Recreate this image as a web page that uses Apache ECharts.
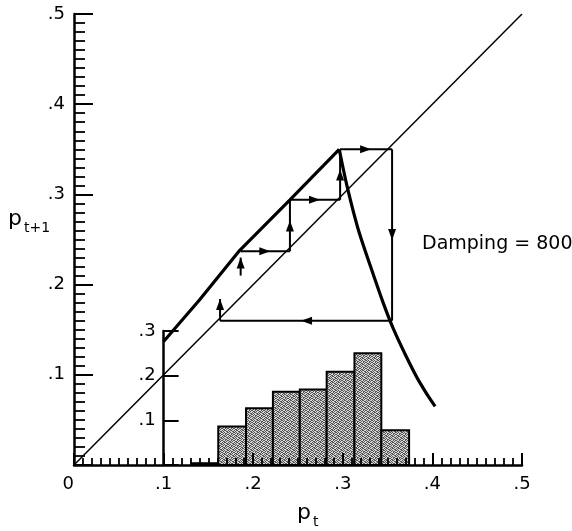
<!DOCTYPE html>
<html>
<head>
<meta charset="utf-8">
<script src="https://cdn.jsdelivr.net/npm/echarts@6/dist/echarts.min.js"></script>
<style>
  html, body { margin: 0; padding: 0; background: #fff; }
  #chart { width: 572px; height: 531px; }
</style>
</head>
<body>
<div id="chart"></div>
<script>
// Map p(t) -> p(t+1): rising branch up to the peak, then the falling branch
const risingP    = [0.100, 0.140, 0.185, 0.241, 0.296];
const risingNext = [0.137, 0.183, 0.238, 0.294, 0.350];
const fallingP    = [0.296, 0.305, 0.317, 0.331, 0.345, 0.356, 0.370, 0.385, 0.403];
const fallingNext = [0.350, 0.308, 0.262, 0.220, 0.180, 0.152, 0.122, 0.093, 0.065];

// identity line p(t+1) = p(t)
const diagonalP = [0, 0.5];

// cobweb steps: [from p, from p', to p, to p'], arrow at mid-segment
const cobwebSteps = [
  [0.186, 0.237, 0.241, 0.237],
  [0.241, 0.237, 0.241, 0.294],
  [0.241, 0.294, 0.297, 0.294],
  [0.297, 0.294, 0.297, 0.350],
  [0.297, 0.350, 0.355, 0.350],
  [0.355, 0.350, 0.355, 0.160],
  [0.355, 0.160, 0.163, 0.160]
];
// short arrows with the head at the end point
const stubArrows = [
  [0.163, 0.160, 0.163, 0.184],
  [0.186, 0.210, 0.186, 0.230]
];

// histogram of visited p(t): bin edges and relative frequencies
const binEdges = [0.131, 0.161, 0.192, 0.222, 0.252, 0.282, 0.313, 0.343, 0.374];
const binFreq  = [0.004, 0.086, 0.127, 0.164, 0.169, 0.209, 0.250, 0.078];

// tick labels
const xTickLabels = ['0', '.1', '.2', '.3', '.4', '.5'];
const yTickLabels = ['', '.1', '.2', '.3', '.4', '.5'];
const insetTickLabels = ['', '.1', '.2', '.3'];

const FONT = 'DejaVu Sans';

// stippled grey fill for the histogram bars
function stipple() {
  const rows = [
    '101001', '010110', '100101', '011010', '101100', '010011'
  ];
  const c = document.createElement('canvas');
  c.width = 6; c.height = 6;
  const g = c.getContext('2d');
  g.fillStyle = '#d6d6d6';
  g.fillRect(0, 0, 6, 6);
  g.fillStyle = '#555';
  rows.forEach((r, y) => { for (let x = 0; x < 6; x++) if (r[x] === '1') g.fillRect(x, y, 1, 1); });
  return c;
}
const barFill = { image: stipple(), repeat: 'repeat' };

function arrowHead(tip, d, len, half) {
  const bx = tip[0] - d[0] * len, by = tip[1] - d[1] * len;
  return [[tip[0], tip[1]], [bx - d[1] * half, by + d[0] * half], [bx + d[1] * half, by - d[0] * half]];
}

function arrowRenderer(headAtEnd) {
  return function (params, api) {
    const a = api.coord([api.value(0), api.value(1)]);
    const b = api.coord([api.value(2), api.value(3)]);
    const dx = b[0] - a[0], dy = b[1] - a[1];
    const L = Math.hypot(dx, dy) || 1;
    const d = [dx / L, dy / L];
    const tip = headAtEnd ? b : [(a[0] + b[0]) / 2 + d[0] * 5, (a[1] + b[1]) / 2 + d[1] * 5];
    return {
      type: 'group',
      children: [
        { type: 'line', shape: { x1: a[0], y1: a[1], x2: b[0], y2: b[1] },
          style: { stroke: '#000', lineWidth: 2 } },
        { type: 'polygon', shape: { points: arrowHead(tip, d, 11, 4) },
          style: { fill: '#000' } }
      ]
    };
  };
}

function zip(xs, ys) { return xs.map((x, i) => [x, ys[i]]); }

const chart = echarts.init(document.getElementById('chart'), null, { renderer: 'canvas' });

const axisLineStyle = { color: '#000', width: 2.5 };
const tickStyle = { color: '#000', width: 2 };
const labelStyle = { color: '#000', fontSize: 18, fontFamily: FONT };

chart.setOption({
  animation: false,
  backgroundColor: '#fff',
  grid: [
    { left: 74, right: 50, top: 14, bottom: 66, outerBoundsMode: 'none' },
    { left: 163.6, right: 50, top: 331, bottom: 66, outerBoundsMode: 'none' }
  ],
  xAxis: [
    {
      type: 'value', gridIndex: 0, min: 0, max: 0.5, interval: 0.1, z: 10,
      axisLine: { show: true, lineStyle: axisLineStyle },
      axisTick: { show: true, inside: true, length: 12, lineStyle: tickStyle },
      minorTick: { show: true, splitNumber: 10, length: 7, lineStyle: { color: '#000', width: 1.8 } },
      splitLine: { show: false }, minorSplitLine: { show: false },
      axisLabel: Object.assign({ margin: 10, showMinLabel: true, showMaxLabel: true,
        alignMinLabel: 'right',
        formatter: (v) => xTickLabels[Math.round(v * 10)] }, labelStyle)
    },
    { type: 'value', gridIndex: 1, min: 0.1, max: 0.5, show: false }
  ],
  yAxis: [
    {
      type: 'value', gridIndex: 0, min: 0, max: 0.5, interval: 0.1, z: 10,
      axisLine: { show: true, onZero: false, lineStyle: axisLineStyle },
      axisTick: { show: true, inside: true, length: 19, lineStyle: tickStyle },
      minorTick: { show: true, splitNumber: 10, length: 11, lineStyle: { color: '#000', width: 1.8 } },
      splitLine: { show: false }, minorSplitLine: { show: false },
      axisLabel: Object.assign({ margin: 9, showMinLabel: true, showMaxLabel: true,
        formatter: (v) => yTickLabels[Math.round(v * 10)] }, labelStyle)
    },
    {
      type: 'value', gridIndex: 1, min: 0, max: 0.3, interval: 0.1, z: 10,
      axisLine: { show: true, onZero: false, lineStyle: axisLineStyle },
      axisTick: { show: true, inside: true, length: 15, lineStyle: tickStyle },
      splitLine: { show: false },
      axisLabel: Object.assign({ margin: 8, showMinLabel: true, showMaxLabel: true,
        formatter: (v) => insetTickLabels[Math.round(v * 10)] }, labelStyle)
    }
  ],
  series: [
    {
      type: 'custom', xAxisIndex: 1, yAxisIndex: 1, z: 1,
      data: binFreq.map((f, i) => [binEdges[i], binEdges[i + 1], f]),
      encode: { x: [0, 1], y: 2 },
      renderItem: (params, api) => {
        const p0 = api.coord([api.value(0), api.value(2)]);
        const p1 = api.coord([api.value(1), 0]);
        return {
          type: 'rect',
          shape: { x: p0[0], y: p0[1], width: p1[0] - p0[0], height: p1[1] - p0[1] },
          style: { fill: barFill, stroke: '#000', lineWidth: 2 }
        };
      }
    },
    {
      type: 'line', xAxisIndex: 0, yAxisIndex: 0, data: zip(diagonalP, diagonalP),
      showSymbol: false, lineStyle: { color: '#000', width: 1.5 }
    },
    {
      type: 'line', data: zip(risingP, risingNext), showSymbol: false,
      lineStyle: { color: '#000', width: 3.2 }
    },
    {
      type: 'line', data: zip(fallingP, fallingNext), showSymbol: false, smooth: 0.3,
      lineStyle: { color: '#000', width: 3.2 }
    },
    {
      type: 'custom', data: cobwebSteps, encode: { x: [0, 2], y: [1, 3] },
      renderItem: arrowRenderer(false)
    },
    {
      type: 'custom', data: stubArrows, encode: { x: [0, 2], y: [1, 3] },
      renderItem: arrowRenderer(true)
    }
  ],
  graphic: [
    { type: 'text', left: 422, top: 235,
      style: { text: 'Damping = 800', fill: '#000', fontSize: 19, fontFamily: FONT } },
    { type: 'text', left: 8, top: 208,
      style: { text: 'p', fill: '#000', fontSize: 22, fontFamily: FONT } },
    { type: 'text', left: 24, top: 221,
      style: { text: 't+1', fill: '#000', fontSize: 14, fontFamily: FONT } },
    { type: 'text', left: 297, top: 502,
      style: { text: 'p', fill: '#000', fontSize: 22, fontFamily: FONT } },
    { type: 'text', left: 313, top: 515,
      style: { text: 't', fill: '#000', fontSize: 14, fontFamily: FONT } }
  ]
});
</script>
</body>
</html>
